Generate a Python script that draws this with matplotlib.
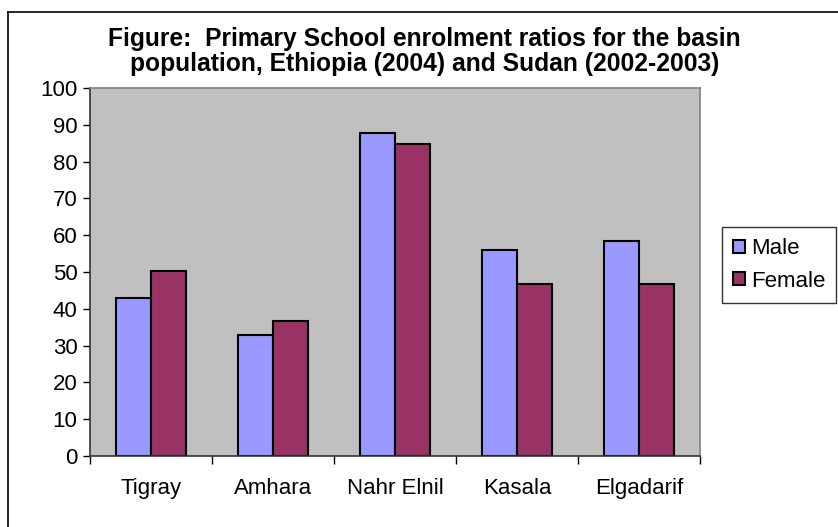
import matplotlib
matplotlib.use("Agg")
import matplotlib.pyplot as plt
from matplotlib.lines import Line2D
import numpy as np

# Data
regions = ["Tigray", "Amhara", "Nahr Elnil", "Kasala", "Elgadarif"]
male = [43, 33, 87.7, 56, 58.5]
female = [50.4, 36.8, 84.8, 46.8, 46.8]
y_ticks = list(range(0, 101, 10))

plt.rcParams['font.family'] = ['Liberation Sans', 'DejaVu Sans']

fig = plt.figure(figsize=(8.38, 5.27), dpi=100)
ax = fig.add_axes([90 / 838, 71 / 527, 610 / 838, 368 / 527])
ax.set_facecolor('#C0C0C0')

x = np.arange(len(regions))
w = 0.287
ax.bar(x - w / 2, male, w, color='#9999FF', edgecolor='black', linewidth=1.5, label='Male')
ax.bar(x + w / 2, female, w, color='#993366', edgecolor='black', linewidth=1.5, label='Female')

ax.set_xlim(-0.5, len(regions) - 0.5)
ax.set_ylim(0, 100)
ax.set_yticks(y_ticks)
ax.tick_params(axis='y', labelsize=16, length=5, width=1, direction='out', pad=4)

# categories between tick marks, like Excel
ax.set_xticks(np.arange(-0.5, len(regions), 1))
ax.set_xticklabels([])
ax.set_xticks(x, minor=True)
ax.set_xticklabels(regions, minor=True, fontsize=16)
ax.tick_params(axis='x', which='major', length=6, width=1, direction='out')
ax.tick_params(axis='x', which='minor', length=0, pad=16)

for s in ['top', 'right']:
    ax.spines[s].set_color('#808080')
    ax.spines[s].set_linewidth(1.2)
for s in ['left', 'bottom']:
    ax.spines[s].set_color('#333333')
    ax.spines[s].set_linewidth(1.2)

title_x = (107 + 742) / 2 / 838
fig.text(title_x, 1 - 39 / 527,
         "Figure:  Primary School enrolment ratios for the basin",
         ha='center', va='center', fontsize=17.7, fontweight='bold')
fig.text(title_x, 1 - 64 / 527,
         "population, Ethiopia (2004) and Sudan (2002-2003)",
         ha='center', va='center', fontsize=17.7, fontweight='bold')

leg = ax.legend(loc='center left', bbox_to_anchor=(722 / 838, 1 - 265 / 527),
                bbox_transform=fig.transFigure, fontsize=16, frameon=True,
                fancybox=False, edgecolor='black', handlelength=0.55,
                handleheight=0.55, handletextpad=0.25, borderpad=0.5,
                labelspacing=0.5, borderaxespad=0)
leg.get_frame().set_linewidth(1)

# outer chart border (only left and top visible in the crop)
fig.add_artist(Line2D([8 / 838, 8 / 838], [0, 1 - 12 / 527], transform=fig.transFigure,
                      color='black', linewidth=1.2))
fig.add_artist(Line2D([8 / 838, 1], [1 - 12 / 527, 1 - 12 / 527], transform=fig.transFigure,
                      color='black', linewidth=1.2))

fig.savefig("out.png", dpi=100)
